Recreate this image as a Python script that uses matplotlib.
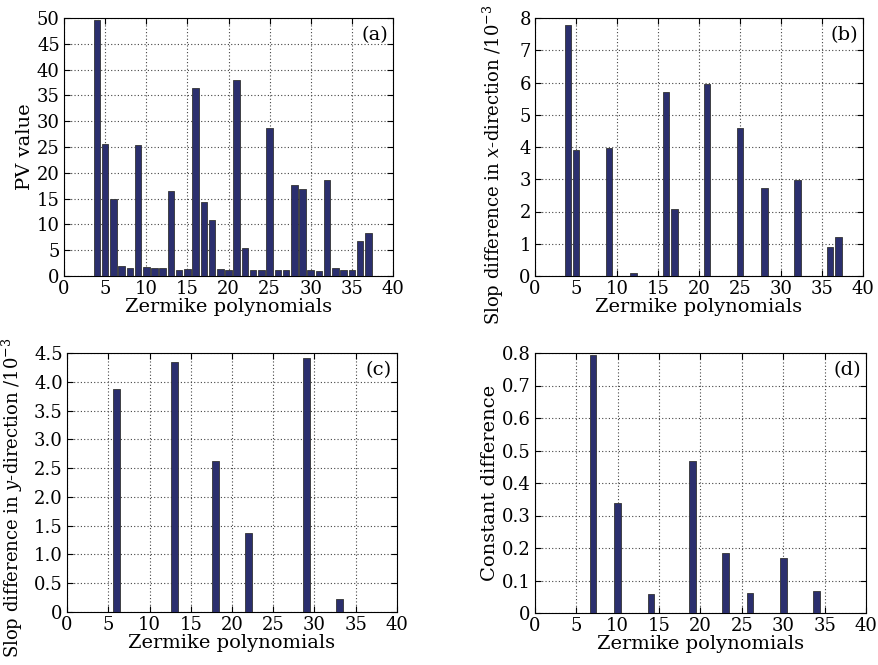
import numpy as np
import matplotlib
matplotlib.use("Agg")
import matplotlib.pyplot as plt
from matplotlib.ticker import FuncFormatter

plt.rcParams['font.family'] = 'DejaVu Serif'
plt.rcParams['mathtext.fontset'] = 'dejavuserif'

# panel (a): PV value for terms 4..37
pv_terms = list(range(4, 38))
pv_values = [49.6, 25.5, 15.0, 1.9, 1.6, 25.3, 1.8, 1.6, 1.6, 16.5,
             1.2, 1.4, 36.4, 14.3, 10.8, 1.4, 1.1, 37.9, 5.4, 1.2,
             1.1, 28.7, 1.2, 1.2, 17.7, 16.8, 1.1, 1.0, 18.7, 1.6,
             1.2, 1.1, 6.7, 8.4]

# panel (b): slope difference in x-direction
sx_terms = [4, 5, 9, 12, 16, 17, 21, 25, 28, 32, 36, 37]
sx_values = [7.77, 3.9, 3.97, 0.1, 5.7, 2.08, 5.95, 4.58, 2.72, 2.98, 0.9, 1.22]

# panel (c): slope difference in y-direction
sy_terms = [6, 13, 18, 22, 29, 33]
sy_values = [3.88, 4.35, 2.62, 1.38, 4.42, 0.22]

# panel (d): constant difference
c_terms = [7, 10, 14, 19, 23, 26, 30, 34]
c_values = [0.795, 0.34, 0.058, 0.467, 0.186, 0.063, 0.168, 0.068]

W, H = 879, 665
fig = plt.figure(figsize=(W / 100, H / 100), dpi=100)


def make_axes(left, right, top, bottom):
    return fig.add_axes([left / W, (H - bottom) / H, (right - left) / W, (bottom - top) / H])


def fmt(v, pos):
    if abs(v) < 1e-9:
        return '0'
    return f'{v:.1f}'


def panel(ax, terms, values, ymax, ystep, ylabel, tag, decimal=False, lsize=14, lpos=None):
    ax.bar(terms, values, width=0.8, color='#2b2f6e', edgecolor='#333333', linewidth=0.6, zorder=3)
    ax.set_xlim(0, 40)
    ax.set_ylim(0, ymax)
    ax.set_xticks(np.arange(0, 41, 5))
    ax.set_yticks(np.arange(0, ymax + ystep / 2, ystep))
    if decimal:
        ax.yaxis.set_major_formatter(FuncFormatter(fmt))
    ax.grid(True, linestyle=(0, (1, 2)), color='#444444', linewidth=0.8, zorder=0)
    ax.tick_params(direction='in', top=True, right=True, labelsize=13, length=4, pad=3)
    for s in ax.spines.values():
        s.set_linewidth(0.8)
    ax.set_xlabel('Zermike polynomials', fontsize=14, labelpad=0)
    ax.set_ylabel(ylabel, fontsize=lsize, labelpad=2)
    if lpos is not None:
        ax.yaxis.set_label_coords(*lpos)
    ax.text(0.985, 0.97, tag, transform=ax.transAxes, ha='right', va='top', fontsize=14)


ax_a = make_axes(64, 393, 18, 276)
panel(ax_a, pv_terms, pv_values, 50, 5, 'PV value', '(a)')

ax_b = make_axes(535, 863, 18, 276)
panel(ax_b, sx_terms, sx_values, 8, 1, 'Slop difference in $x$-direction /10$^{-3}$', '(b)',
      lsize=13, lpos=(-0.088, 0.43))

ax_c = make_axes(67, 397, 353, 612)
panel(ax_c, sy_terms, sy_values, 4.5, 0.5, 'Slop difference in $y$-direction /10$^{-3}$', '(c)',
      decimal=True, lsize=13, lpos=(-0.128, 0.44))

ax_d = make_axes(535, 866, 353, 613)
panel(ax_d, c_terms, c_values, 0.8, 0.1, 'Constant difference', '(d)', decimal=True)

fig.savefig('out.png', dpi=100)
